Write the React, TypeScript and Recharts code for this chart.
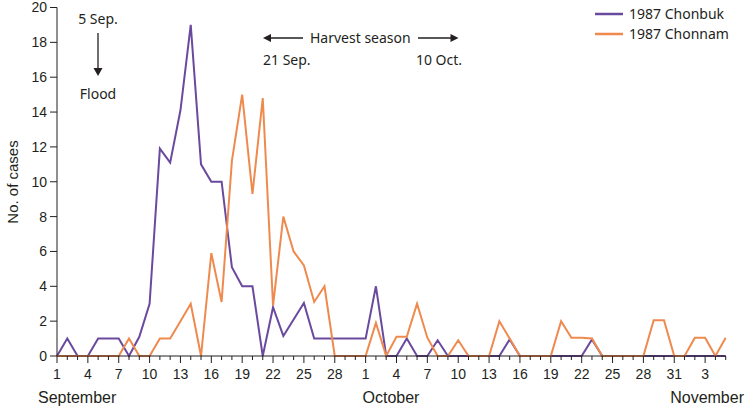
import React from "react";
import { LineChart, Line, XAxis, YAxis } from "recharts";

// day of month for each daily point, 1 Sep .. 5 Nov 1987
const days = [
  1, 2, 3, 4, 5, 6, 7, 8, 9, 10, 11, 12, 13, 14, 15, 16, 17, 18, 19, 20, 21, 22, 23, 24, 25, 26, 27, 28, 29, 30,
  1, 2, 3, 4, 5, 6, 7, 8, 9, 10, 11, 12, 13, 14, 15, 16, 17, 18, 19, 20, 21, 22, 23, 24, 25, 26, 27, 28, 29, 30, 31,
  1, 2, 3, 4, 5,
];

const chonbuk = [
  0, 1, 0, 0, 1, 1, 1, 0, 1.1, 3, 11.9, 11.1, 14.1, 19, 11, 10, 10, 5.1, 4, 4, 0, 2.8, 1.15, 2.1, 3.05, 1, 1, 1, 1, 1,
  1, 4, 0, 0, 1, 0, 0, 0.9, 0, 0, 0, 0, 0, 0, 0.95, 0, 0, 0, 0, 0, 0, 0, 0.95, 0, 0, 0, 0, 0, 0, 0, 0,
  0, 0, 0, 0, 0,
];

const chonnam = [
  0, 0, 0, 0, 0, 0, 0, 1, 0, 0, 1, 1, 2, 3, 0, 5.9, 3.1, 11.2, 15, 9.3, 14.8, 2.9, 8, 6, 5.2, 3.1, 4, 0, 0, 0,
  0, 1.9, 0, 1.1, 1.1, 3, 1.05, 0, 0, 0.9, 0, 0, 0, 2, 1, 0, 0, 0, 0, 2, 1.05, 1.05, 1, 0, 0, 0, 0, 0, 2.05, 2.05, 0,
  0, 1.05, 1.05, 0, 1.05,
];

const yTicks = [0, 2, 4, 6, 8, 10, 12, 14, 16, 18, 20];

const months = [
  { name: "September", x: 38, anchor: "start" },
  { name: "October", x: 391, anchor: "middle" },
  { name: "November", x: 744, anchor: "end" },
];

const PURPLE = "#6a4a9e";
const ORANGE = "#ef8a4f";
const INK = "#231f20";
const AXIS_FONT = "'Liberation Sans', Arial, sans-serif";
const NOTE_FONT = "'Noto Sans', sans-serif";

const data = days.map((d, i) => ({
  idx: i,
  day: d,
  chonbuk: chonbuk[i],
  chonnam: chonnam[i],
}));

const DayTick = (props: any) => {
  const { x, y, payload } = props;
  const i = payload.value as number;
  const major = i % 3 === 0;
  return (
    <g>
      <line x1={x} x2={x} y1={y} y2={y + (major ? 7 : 4)} stroke={INK} strokeWidth={1} />
      {major && (
        <text x={x} y={y + 23} textAnchor="middle" fontSize={14} fill={INK} fontFamily={AXIS_FONT}>
          {days[i]}
        </text>
      )}
    </g>
  );
};

export default function App() {
  return (
    <div style={{ position: "absolute", left: 0, top: 0, width: 745, height: 408, background: "#fff" }}>
      <LineChart width={745} height={408} data={data} margin={{ top: 7.5, right: 19.3, left: 0, bottom: 0 }}>
        <XAxis
          dataKey="idx"
          type="number"
          domain={[0, 65]}
          ticks={data.map((d) => d.idx)}
          interval={0}
          height={52}
          tickLine={false}
          tickSize={0}
          tickMargin={0}
          tick={<DayTick />}
          axisLine={{ stroke: INK }}
        />
        <YAxis
          domain={[0, 20]}
          ticks={yTicks}
          interval={0}
          width={57}
          tickSize={7}
          tickMargin={3}
          axisLine={{ stroke: INK }}
          tickLine={{ stroke: INK }}
          tick={{ fontSize: 14, fill: INK, fontFamily: AXIS_FONT }}
        />
        <Line type="linear" dataKey="chonbuk" stroke={PURPLE} strokeWidth={2} dot={false} isAnimationActive={false} />
        <Line type="linear" dataKey="chonnam" stroke={ORANGE} strokeWidth={2} dot={false} isAnimationActive={false} />
      </LineChart>
      <svg width={745} height={408} style={{ position: "absolute", left: 0, top: 0, pointerEvents: "none" }}>
        {/* axis title and months */}
        <text x={18} y={182} transform="rotate(-90 18 182)" textAnchor="middle" fontSize={15} fill={INK} fontFamily={AXIS_FONT}>
          No. of cases
        </text>
        {months.map((m) => (
          <text key={m.name} x={m.x} y={403} textAnchor={m.anchor as any} fontSize={16} fill={INK} fontFamily={AXIS_FONT}>
            {m.name}
          </text>
        ))}

        {/* flood note */}
        <g fontFamily={NOTE_FONT} fontSize={14} fill={INK}>
          <text x={98} y={24} textAnchor="middle">5 Sep.</text>
          <line x1={98} x2={98} y1={33} y2={70} stroke={INK} strokeWidth={1.3} />
          <polygon points="93.5,68 102.5,68 98,76" fill={INK} />
          <text x={98} y={99} textAnchor="middle">Flood</text>

          {/* harvest season */}
          <polygon points="263,38 271,34 271,42" fill={INK} />
          <line x1={270} x2={303} y1={38} y2={38} stroke={INK} strokeWidth={1.3} />
          <text x={310} y={43}>Harvest season</text>
          <line x1={418} x2={451} y1={38} y2={38} stroke={INK} strokeWidth={1.3} />
          <polygon points="458.5,38 450.5,34 450.5,42" fill={INK} />
          <text x={263} y={65}>21 Sep.</text>
          <text x={462} y={65} textAnchor="end">10 Oct.</text>

          {/* legend */}
          <line x1={595} x2={623} y1={14} y2={14} stroke={PURPLE} strokeWidth={2.5} />
          <text x={629} y={19}>1987 Chonbuk</text>
          <line x1={595} x2={623} y1={34} y2={34} stroke={ORANGE} strokeWidth={2.5} />
          <text x={629} y={39}>1987 Chonnam</text>
        </g>
      </svg>
    </div>
  );
}
